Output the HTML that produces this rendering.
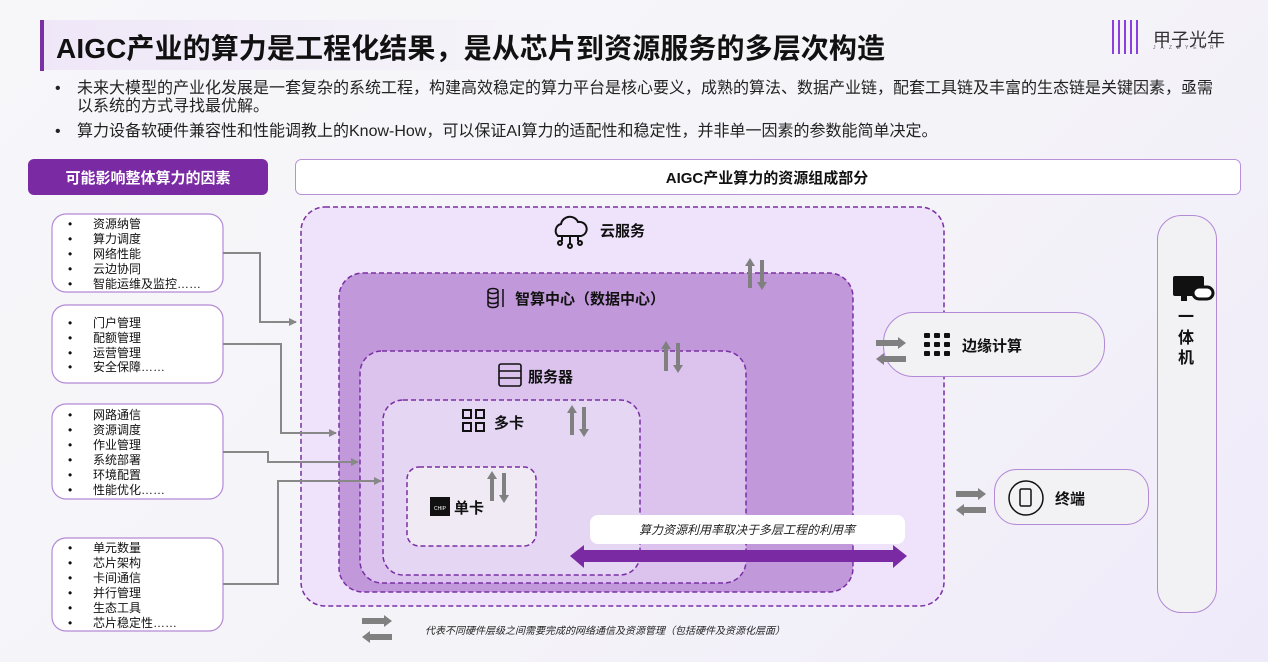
<!DOCTYPE html>
<html><head><meta charset="utf-8"><style>
body{margin:0;width:1268px;height:662px;overflow:hidden;background:linear-gradient(135deg,#f7f7fa 0%,#f4f3f8 60%,#efeafa 100%);font-family:"Liberation Sans","Noto Sans CJK SC",sans-serif;position:relative}
.t{position:absolute;white-space:nowrap}
</style></head><body>
<div style="position:absolute;left:40px;top:20px;width:520px;height:50px;background:linear-gradient(90deg,#efe7f8,rgba(247,247,250,0))"></div>
<div style="position:absolute;left:40px;top:20px;width:4px;height:51px;background:#7b2fa5"></div>
<div class="t" style="left:56px;top:27px;font-size:28px;font-weight:bold;color:#111;letter-spacing:0.1px">AIGC产业的算力是工程化结果，是从芯片到资源服务的多层次构造</div>
<div class="t" style="left:1112px;top:20px;width:30px;height:34px;background:repeating-linear-gradient(90deg,#8a3fe0 0 2px,transparent 2px 6px)"></div>
<div class="t" style="left:1153px;top:26px;font-size:18px;color:#333">甲子光年</div>
<div class="t" style="left:1153px;top:45px;font-size:5px;color:#666;letter-spacing:5px">JAZZYEAR</div>
<div style="position:absolute;left:55px;top:80px;width:1200px;font-size:16px;color:#222;line-height:18px;white-space:nowrap">
<div style="position:relative;padding-left:22px"><span style="position:absolute;left:0">•</span>未来大模型的产业化发展是一套复杂的系统工程，构建高效稳定的算力平台是核心要义，成熟的算法、数据产业链，配套工具链及丰富的生态链是关键因素，亟需<br>以系统的方式寻找最优解。</div>
<div style="position:relative;padding-left:22px;margin-top:7px"><span style="position:absolute;left:0">•</span>算力设备软硬件兼容性和性能调教上的Know-How，可以保证AI算力的适配性和稳定性，并非单一因素的参数能简单决定。</div>
</div>
<svg width="1268" height="662" style="position:absolute;left:0;top:0" font-family="Liberation Sans,Noto Sans CJK SC,sans-serif">
<defs><marker id="a" markerWidth="8" markerHeight="8" refX="7" refY="4" orient="auto" markerUnits="userSpaceOnUse"><path d="M0,0L8,4L0,8z" fill="#888"/></marker>
<g id="ud"><path d="M5,0L10,8H7V30H3V8H0z" fill="#808080"/><path d="M13,0H17V22H20L15,30L10,22H13z" fill="#808080" transform="translate(2,2)"/></g>
<g id="lr"><path d="M0,3H22V0L30,6L22,12V9H0z" fill="#808080"/><path d="M30,19H8V16L0,22L8,28V25H30z" fill="#808080"/></g>
</defs>
<rect x="28" y="159" width="240" height="36" rx="6" fill="#7a2aa3"/>
<text x="148" y="183" text-anchor="middle" font-size="15" font-weight="bold" fill="#fff">可能影响整体算力的因素</text>
<rect x="295.5" y="159.5" width="945" height="35" rx="6" fill="#fff" stroke="#b890d8"/>
<text x="767" y="183" text-anchor="middle" font-size="15" font-weight="bold" fill="#111">AIGC产业算力的资源组成部分</text>
<g fill="#fff" stroke="#b38ad6" stroke-width="1.2">
<rect x="52" y="214" width="171" height="78" rx="14"/>
<rect x="52" y="305" width="171" height="78" rx="14"/>
<rect x="52" y="404" width="171" height="95" rx="14"/>
<rect x="52" y="538" width="171" height="93" rx="14"/>
</g>
<g font-size="12" fill="#111">
<text x="68" y="228">•<tspan x="93">资源纳管</tspan></text><text x="68" y="243">•<tspan x="93">算力调度</tspan></text><text x="68" y="258">•<tspan x="93">网络性能</tspan></text><text x="68" y="273">•<tspan x="93">云边协同</tspan></text><text x="68" y="288">•<tspan x="93">智能运维及监控……</tspan></text>
<text x="68" y="327">•<tspan x="93">门户管理</tspan></text><text x="68" y="342">•<tspan x="93">配额管理</tspan></text><text x="68" y="357">•<tspan x="93">运营管理</tspan></text><text x="68" y="371">•<tspan x="93">安全保障……</tspan></text>
<text x="68" y="419">•<tspan x="93">网路通信</tspan></text><text x="68" y="434">•<tspan x="93">资源调度</tspan></text><text x="68" y="449">•<tspan x="93">作业管理</tspan></text><text x="68" y="464">•<tspan x="93">系统部署</tspan></text><text x="68" y="479">•<tspan x="93">环境配置</tspan></text><text x="68" y="494">•<tspan x="93">性能优化……</tspan></text>
<text x="68" y="552">•<tspan x="93">单元数量</tspan></text><text x="68" y="567">•<tspan x="93">芯片架构</tspan></text><text x="68" y="582">•<tspan x="93">卡间通信</tspan></text><text x="68" y="597">•<tspan x="93">并行管理</tspan></text><text x="68" y="612">•<tspan x="93">生态工具</tspan></text><text x="68" y="627">•<tspan x="93">芯片稳定性……</tspan></text>
</g>
<g stroke="#7b2fa5" stroke-width="1.5" stroke-dasharray="5,3">
<rect x="301" y="207" width="643" height="399" rx="24" fill="#efe3fb"/>
<rect x="339" y="273" width="514" height="319" rx="24" fill="#c199da"/>
<rect x="360" y="351" width="386" height="232" rx="22" fill="#dcc3ee"/>
<rect x="383" y="400" width="257" height="175" rx="20" fill="#e5d6f4"/>
<rect x="407" y="467" width="129" height="79" rx="12" fill="#efeaf3"/>
</g>
<g stroke="#888" stroke-width="2" fill="none" marker-end="url(#a)">
<path d="M223,253H260V322H296"/>
<path d="M223,344H281V433H336"/>
<path d="M223,452H268V462H358"/>
<path d="M223,584H278V481H381"/>
</g>
<rect x="883.5" y="312.5" width="221" height="64" rx="30" fill="#f2f1f3" stroke="#b38ad6"/>
<rect x="994.5" y="469.5" width="154" height="55" rx="22" fill="#f2f1f3" stroke="#b38ad6"/>
<use href="#ud" x="745" y="258"/><use href="#ud" x="661" y="341"/><use href="#ud" x="567" y="405"/><use href="#ud" x="487" y="471"/>
<use href="#lr" x="876" y="337"/><use href="#lr" x="956" y="488"/><use href="#lr" x="362" y="615"/>
<g fill="none" stroke="#111" stroke-width="2"><path d="M558,236a7,7 0 0 1 3,-12a9,9 0 0 1 17,-2a6,6 0 0 1 3,14z"/><path d="M562,236v5M570,236v8M578,236v5"/><circle cx="560" cy="243" r="2"/><circle cx="570" cy="246" r="2"/><circle cx="580" cy="243" r="2"/></g>
<text x="600" y="236" font-size="15" font-weight="bold" fill="#111">云服务</text>
<g fill="none" stroke="#111" stroke-width="1.5"><ellipse cx="493" cy="291" rx="5" ry="2.5"/><path d="M488,291v14a5,2.5 0 0 0 10,0v-14M488,296a5,2.5 0 0 0 10,0M488,301a5,2.5 0 0 0 10,0M503,289v18"/></g>
<text x="515" y="304" font-size="15" font-weight="bold" fill="#111">智算中心（数据中心）</text>
<g fill="none" stroke="#111" stroke-width="1.6"><rect x="499" y="364" width="22" height="22" rx="2"/><path d="M499,371h22M499,378h22"/></g>
<text x="528" y="382" font-size="15" font-weight="bold" fill="#111">服务器</text>
<g fill="none" stroke="#111" stroke-width="2"><rect x="463" y="410" width="8" height="8"/><rect x="476" y="410" width="8" height="8"/><rect x="463" y="423" width="8" height="8"/><rect x="476" y="423" width="8" height="8"/></g>
<text x="494" y="428" font-size="15" font-weight="bold" fill="#111">多卡</text>
<rect x="430" y="497" width="20" height="19" fill="#111"/><text x="440" y="510" font-size="5" fill="#fff" text-anchor="middle">CHIP</text>
<text x="454" y="513" font-size="15" font-weight="bold" fill="#111">单卡</text>
<rect x="590" y="515" width="315" height="29" rx="8" fill="#fff"/>
<text x="747" y="534" font-size="12" font-style="italic" text-anchor="middle" fill="#222">算力资源利用率取决于多层工程的利用率</text>
<path d="M570,556L584,545V550H893V545L907,556L893,568V562H584V568z" fill="#7a2aa3"/>
<g fill="#111"><rect x="924" y="333" width="6" height="5" rx="1"/><rect x="934" y="333" width="6" height="5" rx="1"/><rect x="944" y="333" width="6" height="5" rx="1"/><rect x="924" y="342" width="6" height="5" rx="1"/><rect x="934" y="342" width="6" height="5" rx="1"/><rect x="944" y="342" width="6" height="5" rx="1"/><rect x="924" y="351" width="6" height="5" rx="1"/><rect x="934" y="351" width="6" height="5" rx="1"/><rect x="944" y="351" width="6" height="5" rx="1"/></g>
<text x="962" y="351" font-size="15" font-weight="bold" fill="#111">边缘计算</text>
<circle cx="1026" cy="498" r="17" fill="none" stroke="#111" stroke-width="1.5"/><rect x="1020" y="489" width="11" height="17" rx="1.5" fill="none" stroke="#111" stroke-width="1.5"/>
<text x="1055" y="504" font-size="15" font-weight="bold" fill="#111">终端</text>
<rect x="1157.5" y="215.5" width="59" height="397" rx="24" fill="#f2f1f3" stroke="#b38ad6"/>
<rect x="1173" y="276" width="31" height="20" rx="2" fill="#111"/><rect x="1181" y="295" width="6" height="6" fill="#111"/>
<rect x="1193" y="287" width="20" height="12" rx="6" fill="#fff" stroke="#111" stroke-width="3"/>
<text x="1186" y="322" font-size="16" font-weight="bold" fill="#111" text-anchor="middle">一</text>
<text x="1186" y="343" font-size="16" font-weight="bold" fill="#111" text-anchor="middle">体</text>
<text x="1186" y="363" font-size="16" font-weight="bold" fill="#111" text-anchor="middle">机</text>
<text x="425" y="634" font-size="10" font-style="italic" fill="#222">代表不同硬件层级之间需要完成的网络通信及资源管理（包括硬件及资源化层面）</text>
</svg>
</body></html>
